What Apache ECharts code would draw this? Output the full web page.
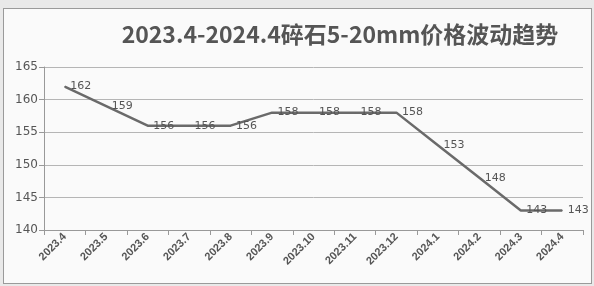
<!DOCTYPE html>
<html>
<head>
<meta charset="utf-8">
<script src="https://cdn.jsdelivr.net/npm/echarts@6/dist/echarts.min.js"></script>
<style>
  html, body { margin: 0; padding: 0; background: #e9e9e9; }
  #main { position: absolute; left: 3px; top: 8px; width: 589px; height: 276px;
          background: #fafafa; border: 1px solid #9a9a9a; box-sizing: border-box; }
</style>
</head>
<body>
<div id="main"></div>
<script>
var months = ['2023.4', '2023.5', '2023.6', '2023.7', '2023.8', '2023.9', '2023.10',
  '2023.11', '2023.12', '2024.1', '2024.2', '2024.3', '2024.4'];
var prices = [162, 159, 156, 156, 156, 158, 158, 158, 158, 153, 148, 143, 143];

var chart = echarts.init(document.getElementById('main'));

var option = {
  animation: false,
  title: {
    text: '2023.4-2024.4碎石5-20mm价格波动趋势',
    left: 331,
    textAlign: 'center',
    top: 9,
    textStyle: {
      fontFamily: 'Noto Sans CJK SC',
      fontSize: 23,
      fontWeight: 'bold',
      color: '#555'
    }
  },
  grid: {
    left: 40,
    right: 8,
    top: 58,
    bottom: 53
  },
  xAxis: {
    type: 'category',
    boundaryGap: true,
    data: months,
    axisLine: { lineStyle: { color: '#999' } },
    axisTick: { show: true, lineStyle: { color: '#999' } },
    axisLabel: {
      rotate: 45,
      interval: 0,
      fontSize: 11,
      fontWeight: 'bold',
      color: '#555',
      fontFamily: 'Liberation Sans',
      margin: 5
    }
  },
  yAxis: {
    type: 'value',
    min: 140,
    max: 165,
    interval: 5,
    axisLine: { show: true, lineStyle: { color: '#999' } },
    axisTick: { show: true, lineStyle: { color: '#999' } },
    splitLine: { lineStyle: { color: '#b5b5b5' } },
    axisLabel: { fontSize: 12, color: '#555', fontFamily: 'DejaVu Sans', margin: 6 }
  },
  series: [{
    type: 'line',
    data: prices,
    symbol: 'circle',
    symbolSize: 1,
    itemStyle: { color: '#6a6a6a' },
    lineStyle: { color: '#6a6a6a', width: 2.5 },
    label: {
      show: true,
      position: 'right',
      distance: 5,
      fontSize: 11,
      color: '#555',
      fontFamily: 'DejaVu Sans'
    }
  }]
};

chart.setOption(option);
</script>
</body>
</html>
